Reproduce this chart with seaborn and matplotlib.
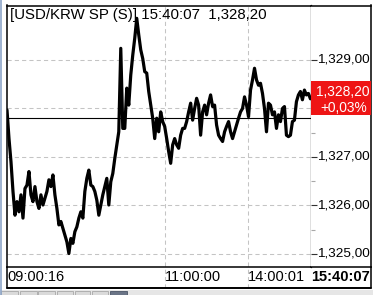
import numpy as np
import pandas as pd
import matplotlib
matplotlib.use("Agg")
import matplotlib.pyplot as plt
import seaborn as sns
from matplotlib.patches import Rectangle
from matplotlib.lines import Line2D
from matplotlib.transforms import blended_transform_factory as blend

# ---------------- data ----------------
prices_part1 = [
    1327.97, 1327.38, 1326.90, 1326.29, 1325.80, 1326.08, 1325.87, 1326.22, 1325.74, 1326.35,
    1326.42, 1326.70, 1326.22, 1326.08, 1326.39, 1326.08, 1325.94, 1326.22, 1326.01, 1326.15,
    1326.29, 1326.53, 1326.39, 1326.63, 1326.22, 1325.94, 1325.60, 1325.67, 1325.53, 1325.39,
    1325.25, 1325.01, 1325.32, 1325.22, 1325.46, 1325.56, 1325.74, 1325.87, 1325.74,
]
prices_part2 = [
    1326.29, 1326.56, 1326.73, 1326.42, 1326.39, 1326.29, 1326.11, 1325.80, 1326.01, 1326.22,
    1326.39, 1326.56, 1326.01, 1326.49, 1326.66, 1326.97, 1327.25, 1327.52, 1329.24, 1327.59,
    1327.59, 1328.42, 1328.07, 1328.69, 1329.10, 1329.45, 1329.86, 1329.52, 1329.21, 1329.03,
    1328.76, 1328.73, 1328.35, 1328.07, 1327.80, 1327.38, 1327.80, 1327.52, 1327.93,
]
prices_part3 = [
    1327.73, 1327.63, 1327.38, 1327.11, 1326.87, 1327.25, 1327.38, 1327.25, 1327.18, 1327.45,
    1327.59, 1327.59, 1327.73, 1327.93, 1328.11, 1327.76, 1328.00, 1328.21, 1328.07, 1327.45,
    1327.93, 1328.07, 1327.87, 1328.11, 1328.28, 1328.04, 1328.07, 1327.66, 1327.45, 1327.38,
    1327.32, 1327.52, 1327.63, 1327.73, 1327.52, 1327.38, 1327.52, 1327.66, 1327.80,
]
prices_part4 = [
    1327.93, 1328.00, 1328.24, 1328.07, 1327.83, 1328.38, 1328.59, 1328.83, 1328.59, 1328.48,
    1328.52, 1328.31, 1328.00, 1327.52, 1328.11, 1328.07, 1327.87, 1327.93, 1327.59, 1327.87,
    1327.73, 1328.00, 1328.04, 1327.45, 1327.42, 1327.45, 1327.73, 1327.76, 1328.14, 1328.28,
    1328.35, 1328.18, 1328.38, 1328.28, 1328.31, 1328.20,
]
prices = prices_part1 + prices_part2 + prices_part3 + prices_part4

prev_close = 1327.80
last_price = 1328.20
last_price_label = "1,328,20"
change_label = "+0,03%"
title_label = "[USD/KRW SP (S)] 15:40:07  1,328,20"

y_ticks = [1325, 1326, 1327, 1328, 1329]
y_tick_labels = ["1,325,00", "1,326,00", "1,327,00", "1,328,00", "1,329,00"]
y_minor_ticks = [1325.5, 1326.5, 1327.5, 1328.5]

time_labels = ["09:00:16", "11:00:00", "14:00:01"]
time_label_idx = [0, 79, 120.5]
last_time_label = "15:40:07"

# ---------------- layout (pixels) ----------------
W, H = 373, 295
L, R, T, B = 6.5, 311, 5.5, 267      # plot area
RR, BB = 371, 288                    # outer frame right / bottom
PX_PER_UNIT = 48.5
Y_1329 = 60

def fx(x):
    return x / W

def fy(y):
    return 1 - y / H

sns.set_theme(style="white")
plt.rcParams['font.family'] = ['Liberation Sans', 'DejaVu Sans']
FS = 10.5

fig = plt.figure(figsize=(W / 100, H / 100), dpi=100)
fig.patch.set_facecolor("white")

ylim = (1329 - (B - Y_1329) / PX_PER_UNIT, 1329 + (Y_1329 - T) / PX_PER_UNIT)

# ---- main plot ----
ax = fig.add_axes([fx(L), fy(B), fx(R) - fx(L), fy(T) - fy(B)])
ax.set_facecolor("white")
df = pd.DataFrame({"idx": np.arange(len(prices)), "price": prices})
sns.lineplot(data=df, x="idx", y="price", ax=ax, color="black",
             linewidth=2.3, zorder=4, legend=False)
ax.set_xlim(-0.25, 152.3)
ax.set_ylim(*ylim)
ax.set_xlabel("")
ax.set_ylabel("")
ax.set_yticks(y_ticks)
ax.set_xticks([])
ax.yaxis.grid(True, color="#c4c4c4", linestyle=(0, (4, 3)), linewidth=0.75)
ax.tick_params(left=False, bottom=False, labelleft=False, labelbottom=False)
for s in ax.spines.values():
    s.set_color("black")
    s.set_linewidth(1.1)
ax.spines["right"].set_linewidth(0.9)
ax.axhline(prev_close, color="black", linewidth=0.8, zorder=3)

strip_frac = (BB - B) / (B - T)
for xi in time_label_idx[1:]:
    ax.axvline(xi, ymin=-strip_frac, ymax=1, color="#c4c4c4",
               linestyle=(0, (4, 3)), linewidth=0.75, clip_on=False, zorder=1)

# ---- right price panel ----
ax_r = fig.add_axes([fx(R), fy(B), fx(RR) - fx(R), fy(T) - fy(B)])
ax_r.set_facecolor("white")
ax_r.set_xlim(0, 1)
ax_r.set_ylim(*ylim)
ax_r.set_xticks([])
ax_r.set_yticks(y_ticks)
ax_r.set_yticks(y_minor_ticks, minor=True)
ax_r.tick_params(axis="y", which="major", direction="in", length=4, width=0.8,
                 color="#333333", left=True, right=False, labelleft=False)
ax_r.tick_params(axis="y", which="minor", direction="in", length=3, width=0.8,
                 color="#a8a8a8", left=True, right=False, labelleft=False)
for s in ax_r.spines.values():
    s.set_color("black")
    s.set_linewidth(1.1)
ax_r.spines["left"].set_visible(False)

tr_r = blend(ax_r.transAxes, ax_r.transData)
for v, lab in zip(y_ticks, y_tick_labels):
    if abs(v - last_price) < 0.4:
        continue  # hidden behind the last-price box
    ax_r.text(6 / (RR - R), v, lab, transform=tr_r, ha="left", va="center",
              fontsize=9.7, color="black", clip_on=True, zorder=3)

ax_r.add_patch(Rectangle((0, last_price - 0.34), 1, 0.71, transform=tr_r,
                         facecolor="#ee1515", edgecolor="none", zorder=5))
ax_r.text(0.53, last_price + 0.15, last_price_label, transform=tr_r, ha="center",
          va="center", fontsize=9.9, color="white", zorder=6, clip_on=True)
ax_r.text(0.55, last_price - 0.20, change_label, transform=tr_r, ha="center",
          va="center", fontsize=9.9, color="white", zorder=6, clip_on=True)

# ---- title ----
fig.text(fx(10), fy(14.5), title_label, ha="left", va="center",
         fontsize=10.8, color="black")

# ---- time labels strip ----
tr_b = blend(ax.transData, fig.transFigure)
for xi, lab in zip(time_label_idx, time_labels):
    ax.text(xi + 0.2, fy(277), lab, transform=tr_b, ha="left", va="center",
            fontsize=FS, color="black", clip_on=False)
fig.text(fx(370), fy(277), last_time_label, ha="right", va="center",
         fontsize=FS, fontweight="bold", color="black")

# ---- outer frame & decorations ----
def fline(xs, ys, **kw):
    fig.add_artist(Line2D([fx(x) for x in xs], [fy(y) for y in ys], **kw))

fline([L, L], [B, BB], color="black", lw=1.1)
fline([RR, RR], [B, BB], color="black", lw=1.1)
fline([L, RR], [BB, BB], color="black", lw=1.4)
fline([0.8, 0.8], [0, H], color="#8ea6c8", lw=1.2)

fig.add_artist(Rectangle((0, 0), 1, fy(289.5), transform=fig.transFigure,
                         facecolor="#e6e6e6", edgecolor="none"))
for x0, x1 in [(1, 18), (20, 37), (38, 55), (57, 73), (75, 90), (92, 108)]:
    fig.add_artist(Rectangle((fx(x0), 0), fx(x1) - fx(x0), fy(290.5),
                             transform=fig.transFigure, facecolor="#dadada",
                             edgecolor="#a8a8a8", linewidth=0.6))
fig.add_artist(Rectangle((fx(110), 0), fx(127) - fx(110), fy(290.5),
                         transform=fig.transFigure, facecolor="#6a7486",
                         edgecolor="#4a5466", linewidth=0.6))

fig.savefig("out.png", dpi=100)
